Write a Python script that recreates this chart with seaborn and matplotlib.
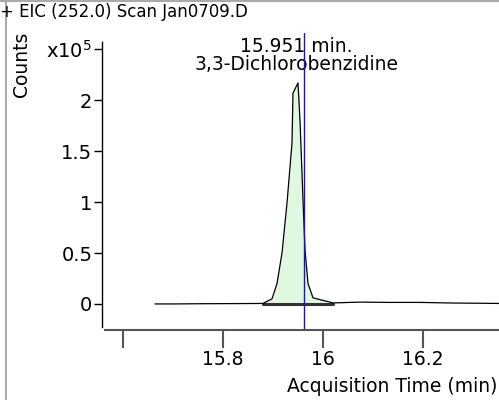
import numpy as np
import pandas as pd
import matplotlib
matplotlib.use("Agg")
import matplotlib.pyplot as plt
from matplotlib.lines import Line2D
import seaborn as sns

# EIC trace (time in min, counts)
times = [15.664, 15.70, 15.754, 15.80, 15.85, 15.88, 15.898, 15.908, 15.918, 15.928,
         15.938, 15.940, 15.950, 15.954, 15.960, 15.964, 15.970, 15.980, 16.020,
         16.074, 16.13, 16.194, 16.26, 16.352]
counts = [0, 0, 200, 300, 400, 500, 5000, 20000, 50000, 99000,
          158000, 207000, 217000, 180000, 102000, 53000, 20000, 6000, 1000,
          1800, 1500, 1500, 900, 500]

peak_start = 15.88
peak_end = 16.02
peak_rt = 15.962
peak_label = "15.951 min."
compound = "3,3-Dichlorobenzidine"
title = "+ EIC (252.0) Scan Jan0709.D"

x_ticks = [15.6, 15.8, 16.0, 16.2]
x_labels = ["", "15.8", "16", "16.2"]
y_ticks = [0, 50000, 100000, 150000, 200000, 250000]
y_labels = ["0", "0.5", "1", "1.5", "2", "x10$^5$"]

df = pd.DataFrame({"time": times, "counts": counts})

sns.set_style("ticks")
plt.rcParams["font.family"] = ["DejaVu Sans"]
plt.rcParams["text.color"] = "black"
plt.rcParams["xtick.color"] = "black"
plt.rcParams["ytick.color"] = "black"
plt.rcParams["xtick.labelcolor"] = "black"
plt.rcParams["ytick.labelcolor"] = "black"

fig = plt.figure(figsize=(4.99, 4.0), dpi=100)
ax = fig.add_axes([102 / 499, (400 - 329) / 400, 397 / 499, (329 - 33) / 400])

# peak area fill + integration baseline
pk = df[(df["time"] >= peak_start) & (df["time"] <= peak_end)]
ax.fill_between(pk["time"], 0, pk["counts"], color="#e0f8e0", lw=0, zorder=1)
ax.plot([peak_start, peak_end], [0, 0], color="#333333", lw=2.2, zorder=2)

sns.lineplot(data=df, x="time", y="counts", color="black", lw=0.9, ax=ax, zorder=3)
ax.axvline(peak_rt, color="#1a1aa8", lw=1, zorder=4)

ax.set_xlim(15.558, 16.352)
ax.set_ylim(-24600, 266000)
ax.set_xticks(x_ticks)
ax.set_xticklabels(x_labels)
ax.set_yticks(y_ticks)
ax.set_yticklabels(y_labels)
ax.set_xlabel("")
ax.set_ylabel("")

for s in ["top", "right"]:
    ax.spines[s].set_visible(False)
ax.spines["left"].set_bounds(-22500, 257500)
ax.spines["bottom"].set_bounds(15.564, 16.352)
ax.spines["left"].set_color("black")
ax.spines["bottom"].set_color("#555555")
ax.spines["bottom"].set_linewidth(1.5)
ax.spines["left"].set_linewidth(1)
ax.spines["bottom"].set_position(("outward", 1))
ax.tick_params(axis="y", direction="out", length=6, width=1, color="black", pad=1, labelsize=14)
ax.tick_params(axis="x", direction="out", length=13, width=1.5, color="#555555", pad=1, labelsize=13.5)

label_x = 0.5 * (peak_start + peak_end) - 0.003
ax.text(label_x, 253000, peak_label, ha="center", va="center", fontsize=13.5)
ax.text(label_x, 235000, compound, ha="center", va="center", fontsize=13.5)

fig.text(0.0, 1 - 12 / 400, title, ha="left", va="center", fontsize=12)
fig.text(21 / 499, 1 - 64 / 400, "Counts", rotation=90, ha="center", va="center", fontsize=13.5)
fig.text(497 / 499, 1 - 386 / 400, "Acquisition Time (min)", ha="right", va="center", fontsize=13.5)

# gray frame edges
fig.add_artist(Line2D([6 / 499, 6 / 499], [0, 1], color="#aaaaaa", lw=1.5, transform=fig.transFigure))
fig.add_artist(Line2D([0, 1], [1 - 1 / 400, 1 - 1 / 400], color="#aaaaaa", lw=1.5, transform=fig.transFigure))

fig.savefig("out.png", dpi=100)
